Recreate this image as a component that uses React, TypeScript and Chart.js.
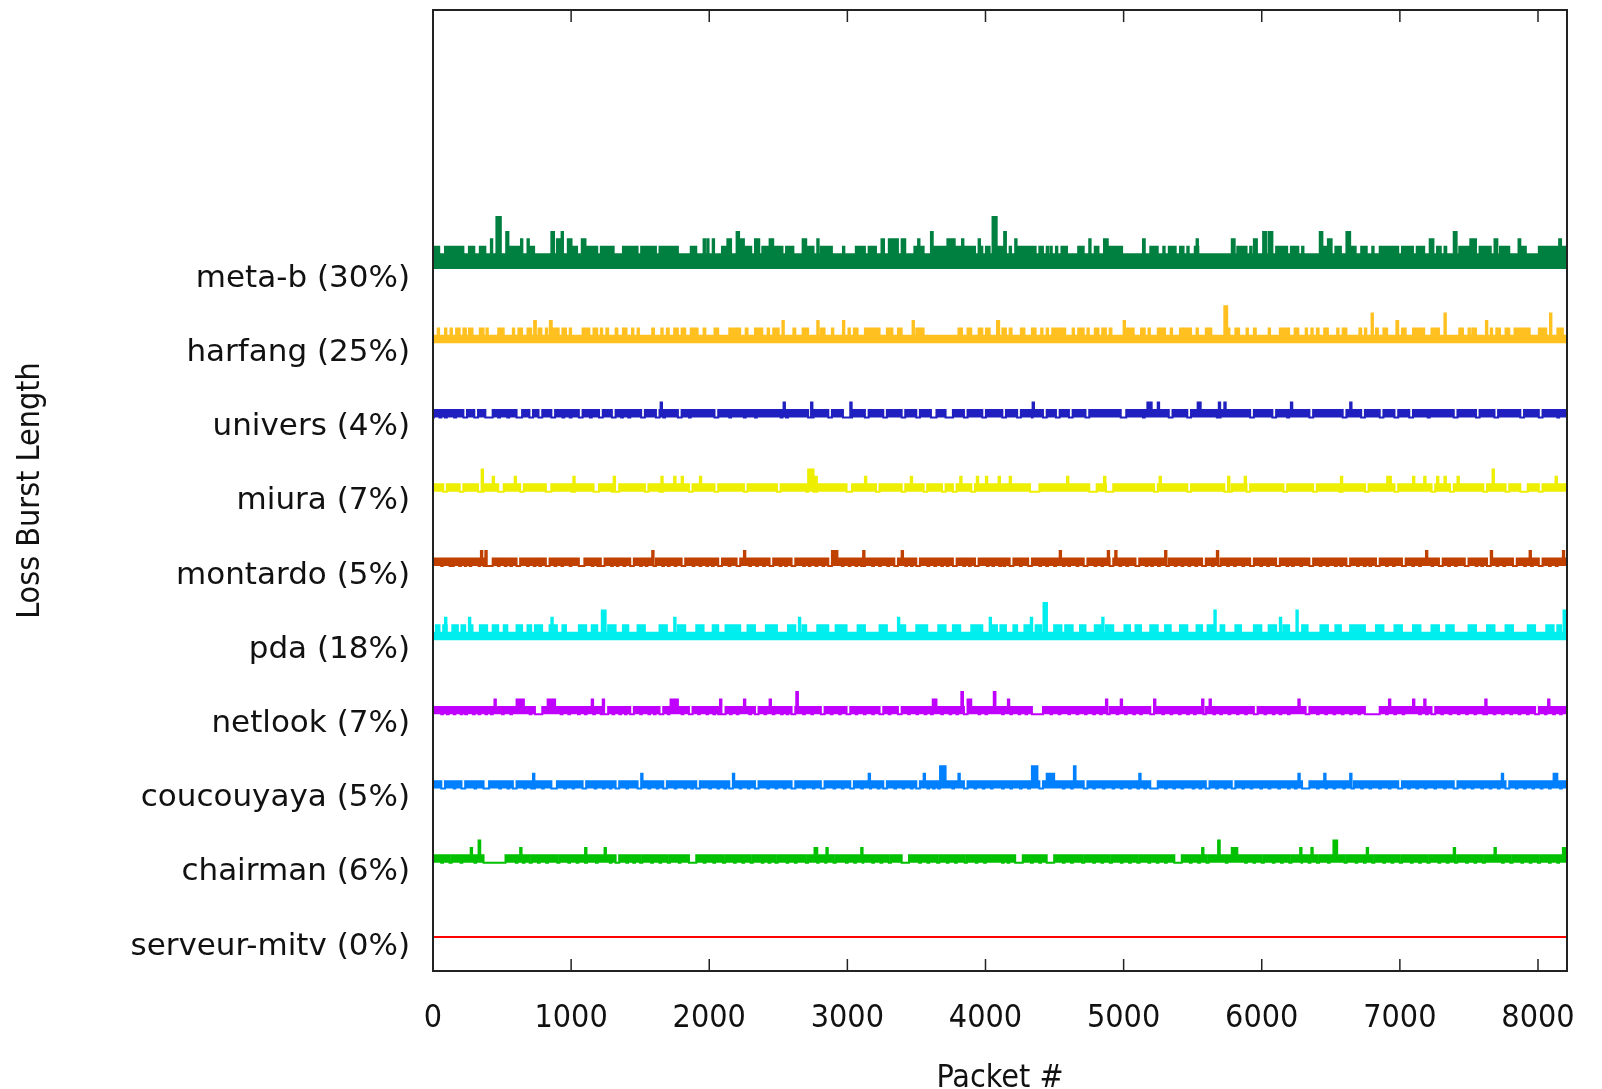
import React, { useEffect, useRef } from 'react';
import { Chart, registerables } from 'chart.js';

Chart.register(...registerables);

// ---------- data ----------
const X_MAX = 8210;
const SERIES_SPACING = 10; // y offset between hosts (burst-length units)
const BASE_LIFT = 1; // data baseline sits 1 unit above its tick label
const LABEL_DROP = 0.3; // tick label sits slightly below the nominal offset
const SPIKE_W = 10; // packets covered by a single loss impulse
const NOTCH_W = 12; // packets of a short loss-free gap inside a loss band

const xTickValues = [0, 1000, 2000, 3000, 4000, 5000, 6000, 7000, 8000];

const seriesNames = [
  'serveur-mitv (0%)',
  'chairman (6%)',
  'coucouyaya (5%)',
  'netlook (7%)',
  'pda (18%)',
  'montardo (5%)',
  'miura (7%)',
  'univers (4%)',
  'harfang (25%)',
  'meta-b (30%)',
];

const seriesColors = [
  '#ff0000', '#00c000', '#0080ff', '#c000ff', '#00eeee',
  '#c04000', '#eeee00', '#2020c0', '#ffc020', '#008040',
];

// level of the always-present loss band of each host
const defaultLevels = [0, 0, 0, 0, 1, 0, 0, 0, 1, 2];

// [startPacket, endPacket, burstLength]
const serveurRuns: number[][] = [];
const serveurSpikes: number[][] = [];
const serveurNotches: number[] = [];

const chairmanRuns: number[][] = [
  [0, 120, 1], [135, 366, 1], [525, 700, 1], [715, 900, 1], [915, 1100, 1], [1115, 1322, 1],
  [1348, 1500, 1], [1515, 1700, 1], [1715, 1853, 1], [1906, 2100, 1], [2115, 2300, 1],
  [2315, 2480, 1], [2495, 2700, 1], [2715, 2900, 1], [2915, 3100, 1], [3115, 3300, 1],
  [3315, 3393, 1], [3446, 3650, 1], [3665, 3850, 1], [3865, 4215, 1], [4270, 4443, 1],
  [4497, 4700, 1], [4715, 4900, 1], [4915, 5100, 1], [5115, 5367, 1], [5421, 5600, 1],
  [5615, 5800, 1], [5815, 6000, 1], [6015, 6200, 1], [6215, 6400, 1], [6415, 6600, 1],
  [6615, 6800, 1], [6815, 7000, 1], [7015, 7200, 1], [7215, 7400, 1], [7415, 7600, 1],
  [7615, 7800, 1], [7815, 8000, 1], [8015, 8210, 1],
  [330, 342, 3], [2762, 2782, 2], [5684, 5696, 3], [5783, 5823, 2], [6519, 6546, 3], [8180, 8210, 2],
];
const chairmanSpikes: number[][] = [
  [273, 2], [631, 2], [1101, 2], [1242, 2], [2848, 2], [3100, 2], [5568, 2], [6278, 2],
  [6359, 2], [6760, 2], [7390, 2], [7685, 2],
];
const chairmanNotches: number[] = [
  60, 200, 300, 600, 650, 760, 820, 980, 1040, 1180, 1280, 1400, 1450, 1580, 1640, 1780,
  1960, 2030, 2180, 2240, 2380, 2430, 2560, 2620, 2780, 2840, 2990, 3050, 3180, 3240, 3520,
  3580, 3720, 3780, 3930, 3990, 4120, 4160, 4330, 4390, 4560, 4620, 4780, 4840, 4980, 5040,
  5180, 5240, 5300, 5480, 5540, 5740, 5880, 5940, 6080, 6140, 6280, 6340, 6480, 6680,
  6740, 6880, 6940, 7080, 7140, 7280, 7340, 7480, 7540, 7740, 7880, 7940, 8080, 8140,
];

const coucouRuns: number[][] = [
  [0, 60, 1], [87, 206, 1], [233, 366, 1], [406, 578, 1], [605, 711, 1], [738, 857, 1],
  [897, 1083, 1], [1109, 1322, 1], [1348, 1481, 1], [1507, 1667, 1], [1693, 1906, 1],
  [1932, 2145, 1], [2171, 2331, 1], [2357, 2596, 1], [2623, 2808, 1], [2835, 3021, 1],
  [3047, 3260, 1], [3286, 3499, 1], [3525, 3658, 1], [3671, 3844, 1], [3870, 4309, 1],
  [4322, 4390, 1], [4416, 4711, 1], [4738, 4979, 1], [4992, 5193, 1], [5247, 5595, 1],
  [5622, 5783, 1], [5809, 6292, 1], [6345, 6640, 1], [6667, 6988, 1], [7015, 7390, 1],
  [7417, 7765, 1], [7792, 8210, 1],
  [3671, 3711, 3], [4336, 4376, 3], [4443, 4497, 2], [4640, 4652, 3], [8113, 8140, 2],
];
const coucouSpikes: number[][] = [
  [724, 2], [1507, 2], [2171, 2], [3154, 2], [3552, 2], [3804, 2], [5113, 2], [6265, 2],
  [6452, 2], [6640, 2], [7738, 2],
];
const coucouNotches: number[] = [
  150, 300, 480, 540, 660, 790, 950, 1010, 1170, 1230, 1280, 1400, 1560, 1620, 1750, 1820,
  1870, 2000, 2060, 2110, 2220, 2280, 2420, 2480, 2540, 2680, 2750, 2900, 2960, 3100, 3160,
  3220, 3340, 3400, 3460, 3580, 3620, 3760, 3920, 3980, 4040, 4120, 4180, 4250, 4560,
  4620, 4780, 4850, 4920, 5040, 5100, 5150, 5300, 5360, 5420, 5500, 5550, 5670, 5730, 5860,
  5920, 5990, 6050, 6120, 6190, 6240, 6400, 6460, 6520, 6590, 6720, 6780, 6850, 6920, 7060,
  7120, 7180, 7250, 7320, 7460, 7520, 7590, 7650, 7710, 7840, 7900, 7960, 8020, 8080, 8160,
];

const netlookRuns: number[][] = [
  [0, 100, 1], [114, 233, 1], [246, 419, 1], [432, 738, 1], [791, 924, 1], [937, 1215, 1],
  [1268, 1428, 1], [1454, 1640, 1], [1667, 1853, 1], [1879, 2065, 1], [2118, 2331, 1],
  [2357, 2596, 1], [2623, 2808, 1], [2835, 2994, 1], [3021, 3233, 1], [3260, 3366, 1],
  [3393, 3605, 1], [3631, 3844, 1], [3870, 4336, 1], [4416, 4872, 1], [4899, 5193, 1],
  [5220, 5568, 1], [5595, 5943, 1], [5970, 6318, 1], [6345, 6747, 1], [6854, 7229, 1],
  [7256, 7604, 1], [7631, 7979, 1], [8006, 8210, 1],
  [605, 658, 2], [830, 884, 2], [1720, 1773, 2], [2630, 2642, 3], [3618, 3645, 2],
  [3825, 3837, 3], [3870, 3897, 2], [4060, 4072, 3],
];
const netlookSpikes: number[][] = [
  [445, 2], [1149, 2], [1229, 2], [2078, 2], [2251, 2], [2437, 2], [4162, 2], [4872, 2],
  [4979, 2], [5220, 2], [5568, 2], [5622, 2], [6265, 2], [6921, 2], [7095, 2], [7176, 2],
  [7618, 2], [8073, 2],
];
const netlookNotches: number[] = [
  60, 150, 200, 290, 330, 380, 500, 560, 700, 850, 980, 1050, 1100, 1160, 1300, 1350, 1390,
  1500, 1560, 1600, 1700, 1800, 1920, 1980, 2030, 2150, 2200, 2290, 2400, 2460, 2520, 2560,
  2680, 2740, 2880, 2940, 3060, 3120, 3180, 3300, 3440, 3500, 3560, 3680, 3740, 3790, 3950,
  4000, 4120, 4180, 4240, 4290, 4470, 4530, 4600, 4660, 4720, 4780, 4830, 4950, 5010, 5070,
  5120, 5280, 5340, 5400, 5460, 5510, 5650, 5700, 5760, 5820, 5880, 6020, 6080, 6130, 6190,
  6400, 6460, 6520, 6580, 6640, 6700, 6900, 6960, 7020, 7140, 7190, 7300, 7360, 7420,
  7480, 7540, 7680, 7740, 7800, 7860, 7920, 8050, 8110, 8160,
];

const pdaRuns: number[][] = [
  [21, 47, 2], [74, 100, 2], [140, 180, 2], [206, 233, 2], [260, 286, 2], [339, 392, 2],
  [432, 472, 2], [512, 538, 2], [605, 645, 2], [684, 711, 2], [738, 790, 2], [844, 897, 2],
  [937, 963, 2], [1056, 1109, 2], [1149, 1189, 2], [1222, 1250, 4], [1268, 1322, 2],
  [1375, 1414, 2], [1481, 1534, 2], [1640, 1693, 2], [1773, 1826, 2], [1906, 1959, 2],
  [2025, 2065, 2], [2118, 2224, 2], [2277, 2331, 2], [2410, 2490, 2], [2570, 2623, 2],
  [2676, 2702, 2], [2782, 2862, 2], [2915, 2994, 2], [3074, 3127, 2], [3233, 3286, 2],
  [3366, 3419, 2], [3499, 3578, 2], [3658, 3711, 2], [3764, 3817, 2], [3897, 3977, 2],
  [4030, 4083, 2], [4108, 4148, 2], [4202, 4229, 2], [4282, 4322, 2], [4363, 4403, 2],
  [4420, 4445, 5], [4497, 4550, 2], [4577, 4631, 2], [4684, 4724, 2], [4791, 4832, 2],
  [4872, 4925, 2], [5006, 5046, 2], [5086, 5126, 2], [5193, 5247, 2], [5300, 5341, 2],
  [5408, 5461, 2], [5528, 5568, 2], [5608, 5649, 2], [5702, 5729, 2], [5809, 5850, 2],
  [5943, 5997, 2], [6050, 6104, 2], [6157, 6198, 2], [6292, 6332, 2], [6425, 6479, 2],
  [6533, 6573, 2], [6640, 6747, 2], [6827, 6881, 2], [6961, 7015, 2], [7095, 7149, 2],
  [7229, 7283, 2], [7336, 7390, 2], [7497, 7551, 2], [7631, 7685, 2], [7765, 7819, 2],
  [7926, 7979, 2], [8060, 8113, 2], [8140, 8167, 2], [8185, 8210, 4],
];
const pdaSpikes: number[][] = [
  [87, 3], [260, 3], [857, 3], [1746, 3], [2649, 3], [3366, 3], [4030, 3], [4328, 3],
  [4845, 3], [5657, 4], [6131, 3], [6251, 4],
];
const pdaNotches: number[] = [];

const montardoRuns: number[][] = [
  [0, 60, 1], [70, 140, 1], [150, 230, 1], [240, 330, 1], [340, 366, 1], [432, 605, 1],
  [631, 817, 1], [844, 1056, 1], [1096, 1215, 1], [1242, 1428, 1], [1454, 1587, 1],
  [1614, 1800, 1], [1826, 2065, 1], [2092, 2198, 1], [2224, 2437, 1], [2463, 2596, 1],
  [2623, 2862, 1], [2888, 3100, 1], [3127, 3340, 1], [3366, 3499, 1], [3525, 3764, 1],
  [3791, 3924, 1], [3950, 4175, 1], [4202, 4309, 1], [4336, 4497, 1], [4510, 4711, 1],
  [4738, 4899, 1], [4925, 5086, 1], [5113, 5300, 1], [5327, 5568, 1], [5595, 5675, 1],
  [5702, 5916, 1], [5943, 6104, 1], [6131, 6345, 1], [6372, 6613, 1], [6640, 6827, 1],
  [6854, 7015, 1], [7042, 7283, 1], [7310, 7470, 1], [7497, 7631, 1], [7658, 7819, 1],
  [7846, 8006, 1], [8033, 8210, 1],
  [2888, 2928, 2],
];
const montardoSpikes: number[][] = [
  [347, 2], [379, 2], [1587, 2], [2251, 2], [3114, 2], [3393, 2], [4537, 2], [4885, 2],
  [4939, 2], [5300, 2], [5675, 2], [7189, 2], [7658, 2], [7939, 2], [8180, 2],
];
const montardoNotches: number[] = [
  120, 190, 265, 470, 520, 560, 680, 730, 770, 880, 930, 990, 1150, 1190, 1290, 1330, 1380,
  1500, 1540, 1660, 1700, 1750, 1880, 1930, 1980, 2020, 2140, 2290, 2340, 2390, 2510, 2550,
  2680, 2720, 2770, 2820, 2960, 3010, 3060, 3180, 3230, 3290, 3420, 3460, 3580, 3630, 3680,
  3720, 3840, 3880, 4010, 4050, 4100, 4130, 4250, 4390, 4440, 4560, 4600, 4660, 4790, 4840,
  4970, 5020, 5160, 5200, 5250, 5370, 5420, 5470, 5520, 5640, 5750, 5800, 5860, 5990, 6040,
  6180, 6220, 6280, 6420, 6470, 6530, 6570, 6690, 6740, 6780, 6900, 6950, 7090, 7140, 7230,
  7350, 7400, 7550, 7590, 7700, 7750, 7900, 7950, 8080, 8130,
];

const miuraRuns: number[][] = [
  [0, 74, 1], [100, 193, 1], [220, 326, 1], [366, 472, 1], [512, 631, 1], [658, 817, 1],
  [857, 1003, 1], [1029, 1162, 1], [1202, 1295, 1], [1348, 1534, 1], [1560, 1640, 1],
  [1667, 1853, 1], [1879, 2038, 1], [2065, 2251, 1], [2277, 2490, 1], [2517, 2702, 1],
  [2782, 2994, 1], [3034, 3207, 1], [3233, 3393, 1], [3419, 3552, 1], [3578, 3685, 1],
  [3711, 3764, 1], [3791, 3897, 1], [3924, 4322, 1], [4390, 4751, 1], [4805, 4872, 1],
  [4925, 5220, 1], [5247, 5461, 1], [5488, 5729, 1], [5783, 5890, 1], [5916, 6157, 1],
  [6184, 6372, 1], [6399, 6560, 1], [6586, 6747, 1], [6774, 6961, 1], [6988, 7229, 1],
  [7256, 7363, 1], [7390, 7604, 1], [7631, 7765, 1], [7792, 7872, 1], [7926, 8006, 1],
  [8033, 8210, 1],
  [2716, 2755, 3], [6908, 6935, 2],
];
const miuraSpikes: number[][] = [
  [352, 3], [432, 2], [591, 2], [1016, 2], [1308, 2], [1653, 2], [1746, 2], [1800, 2],
  [1932, 2], [2769, 2], [3127, 2], [3459, 2], [3817, 2], [3937, 2], [4003, 2], [4095, 2],
  [4175, 2], [4590, 2], [4858, 2], [5260, 2], [5756, 2], [5876, 2], [6573, 2], [7095, 2],
  [7176, 2], [7269, 2], [7323, 2], [7417, 2], [7671, 3], [8127, 2],
];
const miuraNotches: number[] = [];

const universRuns: number[][] = [
  [7, 47, 1], [60, 87, 1], [100, 153, 1], [167, 220, 1], [246, 299, 1], [326, 379, 1],
  [432, 472, 1], [485, 538, 1], [552, 605, 1], [645, 698, 1], [724, 764, 1], [791, 857, 1],
  [884, 937, 1], [950, 990, 1], [1003, 1056, 1], [1083, 1136, 1], [1149, 1202, 1],
  [1229, 1295, 1], [1322, 1362, 1], [1375, 1414, 1], [1428, 1507, 1], [1534, 1614, 1],
  [1640, 1667, 1], [1680, 1773, 1], [1800, 1853, 1], [1866, 2038, 1], [2065, 2145, 1],
  [2158, 2251, 1], [2264, 2331, 1], [2344, 2517, 1], [2530, 2556, 1], [2570, 2716, 1],
  [2755, 2862, 1], [2888, 2968, 1], [3034, 3127, 1], [3154, 3260, 1], [3286, 3393, 1],
  [3419, 3499, 1], [3525, 3605, 1], [3645, 3711, 1], [3764, 3844, 1], [3870, 3977, 1],
  [4003, 4122, 1], [4148, 4229, 1], [4256, 4336, 1], [4349, 4416, 1], [4443, 4510, 1],
  [4537, 4604, 1], [4631, 4724, 1], [4751, 4979, 1], [5019, 5140, 1], [5153, 5327, 1],
  [5354, 5461, 1], [5488, 5675, 1], [5702, 5916, 1], [5943, 6077, 1], [6104, 6184, 1],
  [6198, 6345, 1], [6372, 6586, 1], [6613, 6720, 1], [6747, 6854, 1], [6881, 6961, 1],
  [6988, 7068, 1], [7095, 7202, 1], [7216, 7390, 1], [7417, 7551, 1], [7577, 7685, 1],
  [7711, 7872, 1], [7899, 8006, 1], [8033, 8140, 1], [8153, 8210, 1],
  [5536, 5558, 2],
];
const universSpikes: number[][] = [
  [1648, 2], [2538, 2], [2737, 2], [3021, 2], [4341, 2], [5172, 2], [5193, 2], [5247, 2],
  [5689, 2], [5729, 2], [6211, 2], [6640, 2],
];
const universNotches: number[] = [];

const harfangRuns: number[][] = [
  [167, 193, 2], [220, 238, 2], [260, 286, 2], [339, 366, 2], [472, 512, 2], [618, 645, 2],
  [684, 711, 2], [732, 745, 3], [764, 785, 2], [846, 860, 3], [857, 910, 2], [937, 963, 2],
  [1083, 1109, 2], [1162, 1189, 2], [1255, 1268, 2], [1322, 1335, 2], [1375, 1401, 2],
  [1587, 1600, 2], [1693, 1707, 2], [1746, 1773, 2], [1800, 1826, 2], [1866, 1892, 2],
  [1959, 1972, 2], [2038, 2065, 2], [2145, 2224, 2], [2264, 2277, 2], [2331, 2384, 2],
  [2463, 2503, 2], [2530, 2540, 3], [2609, 2623, 2], [2676, 2716, 2], [2782, 2792, 3],
  [2808, 2835, 2], [2968, 2978, 3], [3047, 3074, 2], [3127, 3154, 2], [3167, 3193, 2],
  [3207, 3233, 2], [3286, 3326, 2], [3366, 3393, 2], [3472, 3482, 3], [3499, 3552, 2],
  [3804, 3830, 2], [3870, 3897, 2], [3950, 3977, 2], [4003, 4030, 2], [4083, 4099, 3],
  [4122, 4148, 2], [4175, 4189, 2], [4256, 4282, 2], [4336, 4363, 2], [4483, 4577, 2],
  [4671, 4711, 2], [4791, 4818, 2], [4845, 4872, 2], [4899, 4912, 2], [5000, 5010, 3],
  [5019, 5073, 2], [5126, 5153, 2], [5247, 5300, 2], [5408, 5488, 2], [5595, 5635, 2],
  [5729, 5750, 5], [5809, 5836, 2], [5943, 5957, 2], [6131, 6198, 2], [6238, 6265, 2],
  [6399, 6412, 2], [6452, 6479, 2], [6586, 6613, 2], [6707, 6720, 2], [6795, 6805, 4],
  [6827, 6841, 2], [6881, 6908, 2], [6975, 6988, 3], [7015, 7042, 2], [7095, 7176, 2],
  [7229, 7283, 2], [7323, 7333, 4], [7430, 7457, 2], [7524, 7551, 2], [7623, 7633, 3],
  [7698, 7725, 2], [7765, 7792, 2], [7830, 7940, 2], [8006, 8060, 2], [8087, 8097, 4],
  [8140, 8180, 2],
];
const harfangSpikes: number[][] = [
  [34, 2], [87, 2], [127, 2], [387, 2], [578, 2], [817, 2], [990, 2], [1122, 2], [1215, 2],
  [1441, 2], [1481, 2], [1653, 2], [1906, 2], [2423, 2], [2888, 2], [3008, 2], [4403, 2],
  [4443, 2], [4631, 2], [4738, 2], [5180, 2], [5341, 2], [5528, 2], [5756, 2], [5890, 2],
  [6050, 2], [6318, 2], [6359, 2], [6546, 2], [6747, 2], [7497, 2], [7658, 2],
];
const harfangNotches: number[] = [];

const metaBRuns: number[][] = [
  [0, 21, 3], [100, 220, 3], [260, 299, 3], [339, 379, 3], [459, 491, 7], [530, 546, 5],
  [557, 626, 3], [695, 732, 3], [857, 876, 5], [897, 918, 4], [976, 1003, 4], [1016, 1043, 3],
  [1077, 1104, 4], [1109, 1189, 3], [1215, 1247, 3], [1268, 1308, 3], [1375, 1481, 3],
  [1507, 1614, 3], [1640, 1693, 3], [1707, 1773, 3], [1866, 1906, 3], [2092, 2118, 3],
  [2131, 2158, 4], [2198, 2216, 5], [2224, 2251, 4], [2264, 2304, 3], [2331, 2362, 4],
  [2384, 2423, 3], [2437, 2463, 4], [2476, 2530, 3], [2570, 2609, 3], [2676, 2702, 4],
  [2716, 2755, 3], [2808, 2888, 3], [3061, 3127, 3], [3154, 3207, 3], [3247, 3265, 4],
  [3300, 3366, 4], [3393, 3419, 4], [3485, 3552, 3], [3605, 3618, 5], [3631, 3711, 3],
  [3724, 3777, 4], [3791, 3857, 3], [3870, 3924, 3], [3950, 3977, 3], [4003, 4030, 3],
  [4051, 4081, 7], [4095, 4122, 3], [4135, 4148, 5], [4229, 4363, 3], [4390, 4416, 3],
  [4550, 4590, 3], [4671, 4711, 3], [4791, 4818, 3], [4858, 4885, 4], [4899, 4965, 3],
  [5140, 5153, 4], [5193, 5247, 3], [5327, 5354, 3], [5408, 5434, 3], [5515, 5541, 3],
  [5783, 5804, 4], [5823, 5890, 3], [5943, 5965, 4], [6010, 6032, 5], [6050, 6077, 5],
  [6104, 6184, 3], [6211, 6265, 3], [6420, 6439, 5], [6439, 6479, 3], [6479, 6506, 4],
  [6533, 6573, 3], [6613, 6640, 5], [6653, 6680, 3], [6720, 6760, 3], [6854, 6935, 3],
  [6948, 6988, 3], [7015, 7095, 3], [7122, 7176, 3], [7216, 7243, 4], [7269, 7296, 3],
  [7323, 7336, 3], [7390, 7411, 5], [7430, 7497, 3], [7510, 7551, 4], [7577, 7658, 3],
  [7685, 7706, 4], [7725, 7792, 3], [7859, 7872, 4], [7886, 7912, 3], [8006, 8140, 3],
  [8153, 8167, 4], [8180, 8207, 3],
];
const metaBSpikes: number[][] = [
  [35, 3], [87, 3], [419, 4], [591, 3], [637, 4], [684, 4], [931, 5], [990, 4], [1255, 3],
  [1648, 3], [1667, 3], [1959, 4], [1985, 4], [2025, 4], [2556, 3], [2782, 4], [2968, 3],
  [3512, 4], [3830, 4], [3950, 4], [4175, 3], [4215, 4], [4443, 3], [4470, 3], [4510, 3],
  [4751, 4], [4979, 3], [5287, 3], [5367, 3], [5461, 3], [5528, 4], [5916, 3], [6292, 3],
  [6800, 3],
];
const metaBNotches: number[] = [];

const seriesRuns = [
  serveurRuns, chairmanRuns, coucouRuns, netlookRuns, pdaRuns,
  montardoRuns, miuraRuns, universRuns, harfangRuns, metaBRuns,
];
const seriesSpikes = [
  serveurSpikes, chairmanSpikes, coucouSpikes, netlookSpikes, pdaSpikes,
  montardoSpikes, miuraSpikes, universSpikes, harfangSpikes, metaBSpikes,
];
const seriesNotches = [
  serveurNotches, chairmanNotches, coucouNotches, netlookNotches, pdaNotches,
  montardoNotches, miuraNotches, universNotches, harfangNotches, metaBNotches,
];

// ---------- helpers ----------
function buildSteps(def: number, runs: number[][], spikes: number[][], notches: number[], base: number) {
  const segs = runs
    .map((r) => [r[0], r[1], r[2]])
    .concat(spikes.map((s) => [s[0], s[0] + SPIKE_W, s[1]]));
  const gaps = notches.map((p) => [p, p + NOTCH_W]);
  const bp = new Set<number>([0, X_MAX]);
  const clamp = (v: number) => Math.max(0, Math.min(X_MAX, v));
  segs.forEach((s) => { bp.add(clamp(s[0])); bp.add(clamp(s[1])); });
  gaps.forEach((g) => { bp.add(clamp(g[0])); bp.add(clamp(g[1])); });
  const xs = Array.from(bp).sort((a, b) => a - b);
  const pts: { x: number; y: number }[] = [];
  let prev: number | null = null;
  for (let k = 0; k < xs.length - 1; k++) {
    const mid = (xs[k] + xs[k + 1]) / 2;
    let lv = def;
    for (const s of segs) if (s[0] <= mid && mid < s[1] && s[2] > lv) lv = s[2];
    if (lv === 1 && def === 0) {
      for (const g of gaps) if (g[0] <= mid && mid < g[1]) { lv = 0; break; }
    }
    if (lv !== prev) {
      pts.push({ x: xs[k], y: base + lv });
      prev = lv;
    }
  }
  pts.push({ x: X_MAX, y: base + (prev ?? def) });
  return pts;
}

const framePlugin = {
  id: 'gnuFrame',
  afterDatasetsDraw(chart: any) {
    const { ctx, chartArea: a, scales } = chart;
    const x = scales.x;
    ctx.save();
    ctx.strokeStyle = '#222';
    ctx.lineWidth = 1.5;
    ctx.beginPath();
    xTickValues.forEach((v) => {
      if (v === 0) return;
      const px = x.getPixelForValue(v);
      ctx.moveTo(px, a.bottom);
      ctx.lineTo(px, a.bottom - 12);
      ctx.moveTo(px, a.top);
      ctx.lineTo(px, a.top + 12);
    });
    ctx.stroke();
    ctx.lineWidth = 2;
    ctx.strokeRect(a.left, a.top, a.right - a.left, a.bottom - a.top);
    ctx.restore();
  },
};

export default function App() {
  const ref = useRef<HTMLCanvasElement | null>(null);

  useEffect(() => {
    if (!ref.current) return;
    const datasets = seriesNames.map((name, i) => {
      const base = i * SERIES_SPACING + BASE_LIFT;
      return {
        label: name,
        data: buildSteps(defaultLevels[i], seriesRuns[i], seriesSpikes[i], seriesNotches[i], base),
        borderColor: seriesColors[i],
        backgroundColor: seriesColors[i],
        borderWidth: 2,
        stepped: true,
        pointRadius: 0,
        fill: { value: base },
      };
    });

    const chart = new Chart(ref.current, {
      type: 'line',
      data: { datasets } as any,
      options: {
        animation: false,
        responsive: false,
        devicePixelRatio: 1,
        layout: { padding: { left: 0, right: 35, top: 10, bottom: 0 } },
        plugins: { legend: { display: false }, tooltip: { enabled: false } },
        scales: {
          x: {
            type: 'linear',
            min: 0,
            max: X_MAX,
            grid: { display: false, drawTicks: false },
            border: { display: false },
            afterBuildTicks: (s: any) => {
              s.ticks = xTickValues.map((v) => ({ value: v }));
            },
            afterFit: (s: any) => {
              s.height = 118;
              s.paddingLeft = 0;
              s.paddingRight = 0;
            },
            ticks: {
              padding: 28,
              autoSkip: false,
              maxRotation: 0,
              color: '#111',
              font: { family: 'DejaVu Sans Condensed', size: 32 },
              callback: (v: any) => String(v),
            },
            title: {
              display: true,
              text: 'Packet #',
              color: '#111',
              padding: 0,
              font: { family: 'DejaVu Sans Condensed', size: 32, lineHeight: 0.625 },
            },
          },
          y: {
            type: 'linear',
            min: -3.58,
            max: 125.9,
            grid: { display: false, drawTicks: false },
            border: { display: false },
            afterBuildTicks: (s: any) => {
              s.ticks = seriesNames.map((_, i) => ({ value: i * SERIES_SPACING - LABEL_DROP }));
            },
            afterFit: (s: any) => {
              s.width = 433;
              s.paddingTop = 0;
              s.paddingBottom = 0;
            },
            ticks: {
              padding: 23,
              autoSkip: false,
              color: '#111',
              font: { family: 'DejaVu Sans', size: 31 },
              callback: (v: any) =>
                seriesNames[Math.round((Number(v) + LABEL_DROP) / SERIES_SPACING)] ?? '',
            },
            title: {
              display: true,
              text: 'Loss Burst Length',
              color: '#111',
              padding: { top: 11, bottom: 0 },
              font: { family: 'DejaVu Sans Condensed', size: 32, lineHeight: 1.2 },
            },
          },
        },
      } as any,
      plugins: [framePlugin],
    });
    return () => chart.destroy();
  }, []);

  return (
    <div style={{ position: 'fixed', left: 0, top: 0, width: 1602, height: 1089, background: '#fff' }}>
      <canvas ref={ref} width={1602} height={1089} style={{ display: 'block' }} />
    </div>
  );
}
